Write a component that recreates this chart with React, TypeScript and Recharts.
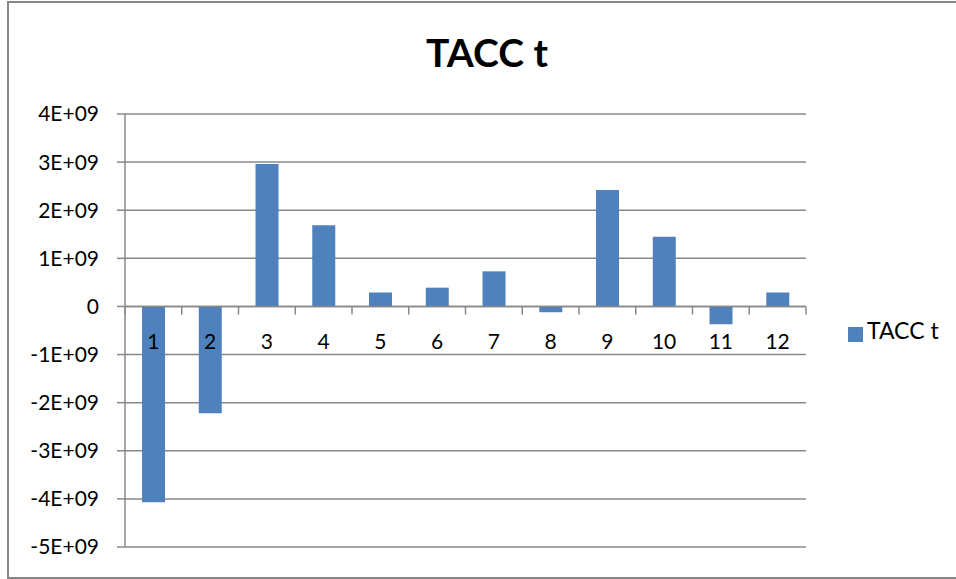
import React from "react"
import {
  BarChart,
  Bar,
  XAxis,
  YAxis,
  CartesianGrid,
  Legend,
  ReferenceLine,
} from "recharts"

const categories = ["1", "2", "3", "4", "5", "6", "7", "8", "9", "10", "11", "12"]
const taccValues = [
  -4.07e9, -2.22e9, 2.96e9, 1.69e9, 0.29e9, 0.39e9, 0.73e9, -0.12e9, 2.42e9,
  1.45e9, -0.37e9, 0.29e9,
]
const yTickValues = [-5e9, -4e9, -3e9, -2e9, -1e9, 0, 1e9, 2e9, 3e9, 4e9]
const yTickLabels = [
  "-5E+09", "-4E+09", "-3E+09", "-2E+09", "-1E+09", "0",
  "1E+09", "2E+09", "3E+09", "4E+09",
]

const data = categories.map((name, i) => ({ name, tacc: taccValues[i] }))

const GRID = "#888888"
const BAR = "#4F81BD"
const FONT = "Lato, 'Open Sans', sans-serif"

// category labels + boundary tick marks hung off the zero line
function ZeroAxis(props: any) {
  const vb = props.viewBox
  if (!vb) return null
  const n = categories.length
  const band = vb.width / n
  const marks = []
  for (let i = 0; i <= n; i++) {
    const x = vb.x + band * i
    marks.push(
      <line key={"t" + i} x1={x} x2={x} y1={vb.y} y2={vb.y + 8} stroke={GRID} strokeWidth={1.5} />
    )
  }
  return (
    <g>
      {marks}
      {categories.map((c, i) => (
        <text
          key={c}
          x={vb.x + band * (i + 0.5)}
          y={vb.y + 43}
          textAnchor="middle"
          fontSize={21}
          fontFamily={FONT}
          fill="#000"
        >
          {c}
        </text>
      ))}
    </g>
  )
}

export default function App() {
  return (
    <div
      style={{
        position: "absolute",
        left: 0,
        top: 0,
        width: 956,
        height: 579,
        overflow: "hidden",
        background: "#fff",
        fontFamily: FONT,
      }}
    >
      <div
        style={{
          position: "absolute",
          left: 7,
          top: 1,
          width: 980,
          height: 574,
          border: "2px solid #868686",
        }}
      />
      <div
        style={{
          position: "absolute",
          left: 387,
          width: 200,
          top: 26,
          textAlign: "center",
          fontSize: 39,
          fontWeight: 700,
          lineHeight: "52px",
          color: "#000",
        }}
      >
        TACC t
      </div>
      <div style={{ position: "absolute", left: 0, top: 0 }}>
        <BarChart
          width={956}
          height={579}
          data={data}
          margin={{ top: 114, right: 40, bottom: 32, left: 0 }}
          barCategoryGap="30%"
        >
          <CartesianGrid horizontal vertical={false} stroke={GRID} strokeWidth={1.5} />
          <XAxis dataKey="name" hide />
          <YAxis
            width={125}
            domain={[-5e9, 4e9]}
            ticks={yTickValues}
            interval={0}
            tickFormatter={(v: number) => yTickLabels[yTickValues.indexOf(v)]}
            axisLine={{ stroke: GRID, strokeWidth: 1.5 }}
            tickLine={{ stroke: GRID, strokeWidth: 1.5 }}
            tickSize={8}
            tickMargin={18}
            tick={{ fill: "#000", fontSize: 21, fontFamily: FONT }}
          />
          <Bar dataKey="tacc" name="TACC t" fill={BAR} isAnimationActive={false} />
          <ReferenceLine y={0} stroke={GRID} strokeWidth={1.5} label={<ZeroAxis />} />
          <Legend
            layout="vertical"
            align="right"
            verticalAlign="top"
            iconType="square"
            iconSize={15}
            wrapperStyle={{ left: 848, top: 316, width: 110, fontFamily: FONT }}
            formatter={(v: string) => (
              <span style={{ color: "#000", fontSize: 23, fontFamily: FONT }}>{v}</span>
            )}
          />
        </BarChart>
      </div>
    </div>
  )
}
